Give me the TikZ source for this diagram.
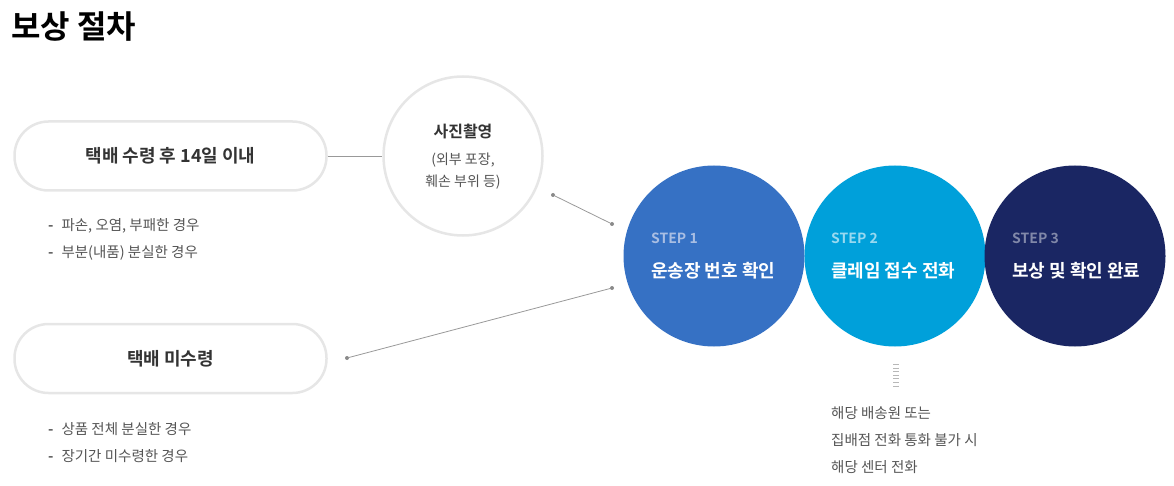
\documentclass[tikz,border=0pt]{standalone}
\usepackage{fontspec}
\setmainfont{Noto Sans CJK KR}[BoldFont={Noto Sans CJK KR Bold}]
\definecolor{pillborder}{HTML}{E6E6E6}
\definecolor{darktext}{HTML}{333333}
\definecolor{greytext}{HTML}{555555}
\definecolor{linegrey}{HTML}{999999}
\definecolor{stepone}{HTML}{3671C4}
\definecolor{steptwo}{HTML}{00A0DA}
\definecolor{stepthree}{HTML}{1A2663}
\definecolor{steplabel}{HTML}{A9BEE3}
\tikzset{
  pill/.style={draw=pillborder, line width=2.5pt, fill=white, rounded corners=34pt,
    minimum width=312pt, minimum height=69pt, inner sep=0pt,
    font=\fontsize{18}{22}\selectfont\bfseries, text=darktext},
  photocircle/.style={circle, draw=pillborder, line width=2.5pt, fill=white, minimum size=159pt, inner sep=0pt},
  stepcircle/.style={circle, minimum size=181pt, inner sep=0pt},
  bullet/.style={anchor=west, font=\fontsize{14.5}{18}\selectfont, text=greytext, inner sep=0pt},
  connector/.style={draw=linegrey, line width=0.8pt},
  enddot/.style={circle, fill=linegrey!90!black, minimum size=4pt, inner sep=0pt},
  steplbl/.style={anchor=west, font=\fontsize{14}{16}\selectfont\bfseries, inner sep=0pt},
  steptitle/.style={anchor=west, font=\fontsize{18}{21}\selectfont\bfseries, text=white, inner sep=0pt},
  notetext/.style={anchor=west, font=\fontsize{14.5}{18}\selectfont, text=greytext, inner sep=0pt}
}
\begin{document}
\begin{tikzpicture}[x=1pt,y=-1pt]
\useasboundingbox (0,0) rectangle (1174,486);
% title
\node[anchor=west, inner sep=0pt, font=\fontsize{32}{36}\selectfont\bfseries] (title) at (11,27) {보상 절차};
% pills
\node[pill] (pillA) at (170.5,156) {택배 수령 후 14일 이내};
\node[pill] (pillB) at (170.5,358.5) {택배 미수령};
% photo circle
\node[photocircle] (photo) at (463,156) {};
\node[font=\fontsize{16}{20}\selectfont\bfseries, text=darktext] (photoT) at (463,131) {사진촬영};
\node[font=\fontsize{14}{18}\selectfont, text=greytext] (photoA) at (463,160) {(외부 포장,};
\node[font=\fontsize{14}{18}\selectfont, text=greytext] (photoB) at (463,182) {훼손 부위 등)};
% bullets
\node[bullet] (b1) at (48,226) {\textbf{-}\hspace{8pt}파손, 오염, 부패한 경우};
\node[bullet] (b2) at (48,253) {\textbf{-}\hspace{8pt}부분(내품) 분실한 경우};
\node[bullet] (b3) at (48,429) {\textbf{-}\hspace{8pt}상품 전체 분실한 경우};
\node[bullet] (b4) at (48,456) {\textbf{-}\hspace{8pt}장기간 미수령한 경우};
% steps
\node[stepcircle, fill=stepone] (s1) at (714,256) {};
\node[stepcircle, fill=steptwo] (s2) at (895,256) {};
\node[stepcircle, fill=stepthree] (s3) at (1075,256) {};
\node[steplbl, text=steplabel] (s1l) at (651,238) {STEP 1};
\node[steptitle] (s1t) at (651,271) {운송장 번호 확인};
\node[steplbl, text=white!60!steptwo] (s2l) at (831,238) {STEP 2};
\node[steptitle] (s2t) at (831,271) {클레임 접수 전화};
\node[steplbl, text=white!45!stepthree] (s3l) at (1012,238) {STEP 3};
\node[steptitle] (s3t) at (1012,271) {보상 및 확인 완료};
% connectors
\draw[connector] (pillA.east) -- (photo.west);
\node[enddot] (d1) at (553,195) {};
\node[enddot] (d2) at (612,224) {};
\node[enddot] (d3) at (347,358) {};
\node[enddot] (d4) at (612,288) {};
\draw[connector] (d1) -- (d2);
\draw[connector] (d3) -- (d4);
% dotted ticks
\coordinate (tA) at (896,364);
\coordinate (tB) at (896,389);
\draw[draw=linegrey!70, line width=6pt, dash pattern=on 1pt off 2.6pt] (tA) -- (tB);
% note
\node[notetext] (n1) at (831,413) {해당 배송원 또는};
\node[notetext] (n2) at (831,440) {집배점 전화 통화 불가 시};
\node[notetext] (n3) at (831,467) {해당 센터 전화};
\end{tikzpicture}
\end{document}
